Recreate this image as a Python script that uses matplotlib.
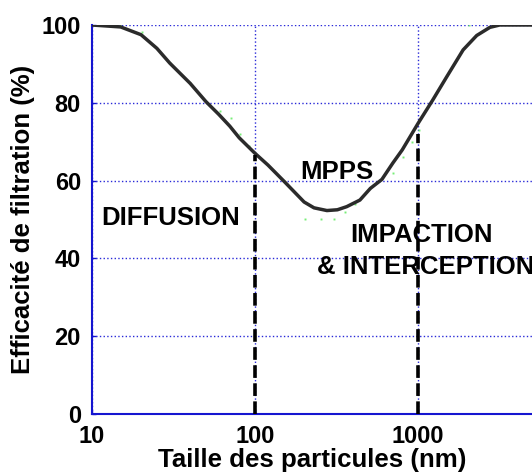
import matplotlib
matplotlib.use("Agg")
import matplotlib.pyplot as plt

plt.rcParams['font.family'] = ['Liberation Sans', 'DejaVu Sans']
plt.rcParams['font.weight'] = 'bold'

# Efficiency curve (particle size in nm, efficiency in %)
size_nm = [10, 15, 20, 25, 30, 40, 50, 60, 70, 80, 100, 120, 150, 200, 230, 276,
           320, 365, 440, 510, 600, 700, 800, 1000, 1230, 1500, 1890, 2290, 2760, 3170, 5000]
efficiency = [100, 99.5, 97.5, 94, 90.2, 85, 80.3, 77, 74, 71, 67, 64, 59.9, 54.5, 53, 52.3,
              52.5, 53.3, 55, 58, 60.3, 64.5, 67.9, 74.7, 80.7, 86.7, 93.6, 97.3, 99.4, 100, 100]

# Faint measured points
meas_x = [14.85, 20.2, 30.1, 39.9, 50.6, 60.9, 71.0, 80.9, 92.2, 100, 150, 202.7, 253, 305,
          357, 411, 508, 705, 812, 914, 1018, 2065]
meas_y = [100, 98.1, 90.2, 85.0, 80.0, 77.9, 76.0, 71.9, 69.0, 67.1, 59.9, 50.1, 50.1, 50.1,
          52.0, 54.0, 58.0, 62.0, 66.0, 70.0, 73.0, 100]

# Region boundaries
bound_x = [100, 1000]
bound_top = [66.5, 72]

xticks = [10, 100, 1000]
xticklabels = ['10', '100', '1000']
yticks = [0, 20, 40, 60, 80, 100]

fig = plt.figure(figsize=(5.32, 4.72), dpi=100)
ax = fig.add_axes([92/532, 58/472, 440/532, 389/472])
ax.set_xscale('log')
ax.set_xlim(10, 5000)
ax.set_ylim(0, 100)

ax.grid(True, which='major', color='#2a2ad8', linestyle=':', linewidth=1.0)
ax.minorticks_off()

ax.plot(size_nm, efficiency, color='#2b2b2b', linewidth=2.5, zorder=3)
ax.plot(meas_x, meas_y, linestyle='none', marker='s', markersize=1.4,
        color='#77ee77', markeredgewidth=0, zorder=2)

for bx, bt in zip(bound_x, bound_top):
    ax.plot([bx, bx], [0, bt], color='black', linestyle=(0, (3.5, 1.5)), linewidth=2.6, zorder=4)

ax.set_xticks(xticks)
ax.set_xticklabels(xticklabels)
ax.set_yticks(yticks)
ax.tick_params(direction='in', length=3, width=1, color='#1515d0', labelsize=17, pad=8)
for lab in ax.get_xticklabels() + ax.get_yticklabels():
    lab.set_fontweight('bold')

for s in ['top', 'right']:
    ax.spines[s].set_visible(False)
for s in ['left', 'bottom']:
    ax.spines[s].set_color('#1515d0')
    ax.spines[s].set_linewidth(1.5)

ax.set_xlabel('Taille des particules (nm)', fontsize=18.6, fontweight='bold', labelpad=0)
ax.set_ylabel('Efficacité de filtration (%)', fontsize=18.5, fontweight='bold', labelpad=5)

ax.text(30.5, 50.5, 'DIFFUSION', fontsize=18.5, fontweight='bold', ha='center', va='center')
ax.text(318, 62.3, 'MPPS', fontsize=18.5, fontweight='bold', ha='center', va='center')
ax.text(1043, 46.0, 'IMPACTION', fontsize=18.5, fontweight='bold', ha='center', va='center')
ax.text(1107, 37.8, '& INTERCEPTION', fontsize=18.5, fontweight='bold', ha='center', va='center',
        clip_on=False)

fig.savefig('out.png', dpi=100)
